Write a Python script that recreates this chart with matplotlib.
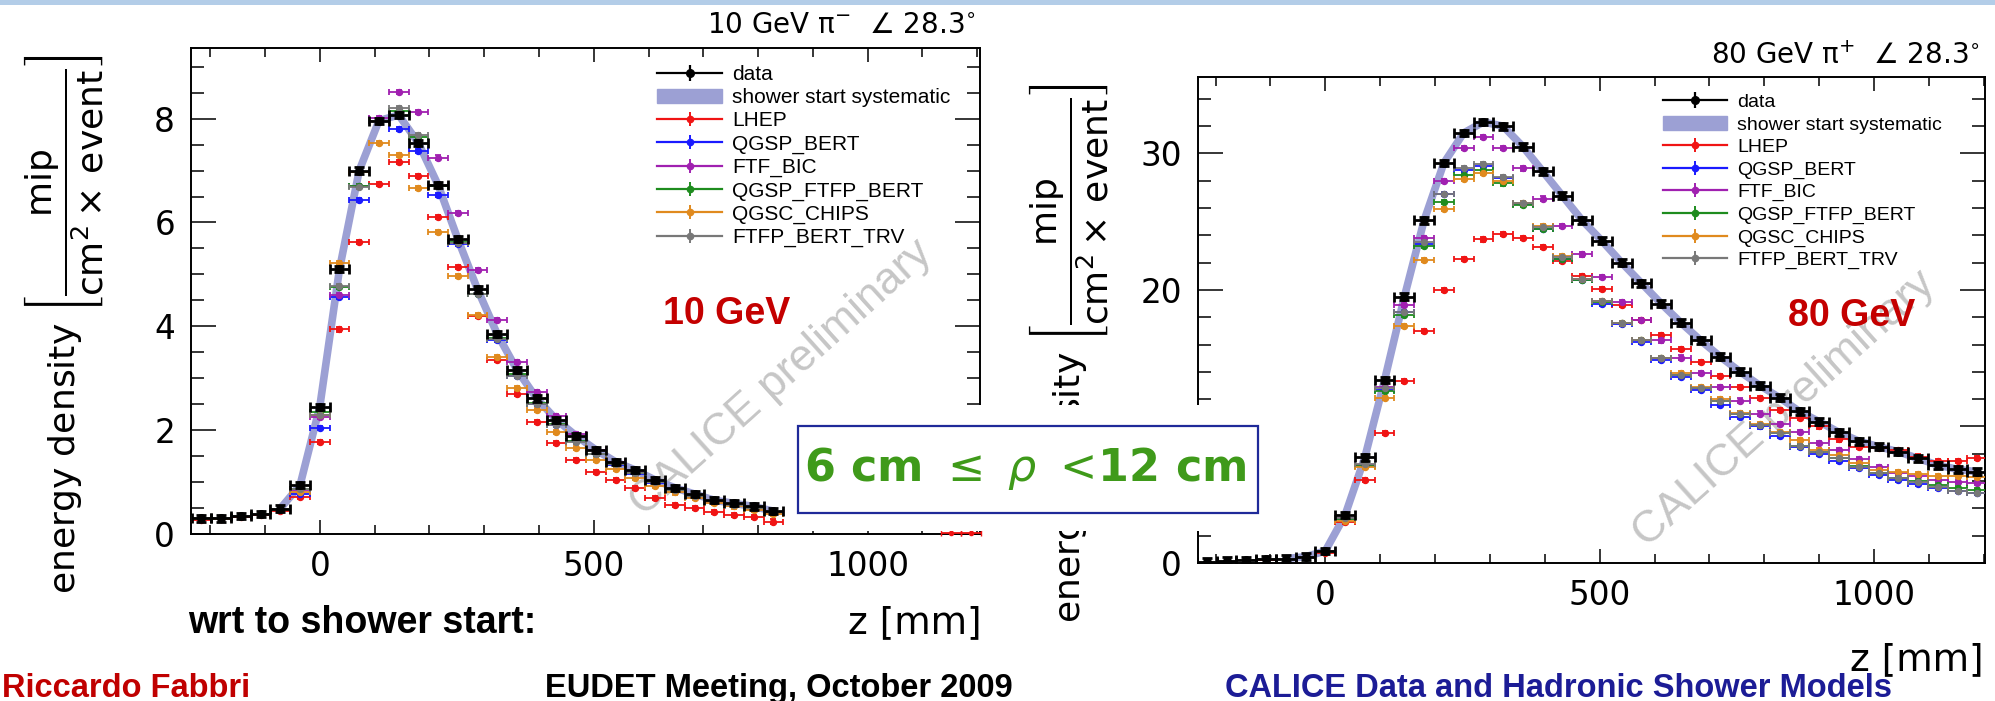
import matplotlib
matplotlib.use('Agg')
import matplotlib.pyplot as plt
import matplotlib.patches as mpatches
from matplotlib.lines import Line2D
from matplotlib.ticker import MultipleLocator

plt.rcParams['font.family'] = ['DejaVu Sans']
plt.rcParams['mathtext.fontset'] = 'dejavusans'
HELV = ['Liberation Sans', 'DejaVu Sans']

# bin centres along the shower axis (mm, wrt shower start)
z_mm = [-216, -180, -144, -108, -72, -36, 0, 36, 72, 108, 144, 180, 216, 252, 288, 324,
        360, 396, 432, 468, 504, 540, 576, 612, 648, 684, 720, 756, 792, 828, 864, 900,
        936, 972, 1008, 1044, 1080, 1116, 1152, 1188]

model_names = ['LHEP', 'QGSP_BERT', 'FTF_BIC', 'QGSP_FTFP_BERT', 'QGSC_CHIPS', 'FTFP_BERT_TRV']
model_colors = ['#f01414', '#1a1aff', '#a020b0', '#1e8c1e', '#e08a1e', '#787878']

# ---- 10 GeV pi- ----
data_10 = [0.30, 0.30, 0.35, 0.39, 0.49, 0.94, 2.45, 5.10, 7.00, 7.96, 8.07, 7.53, 6.72, 5.68, 4.71,
           3.85, 3.16, 2.61, 2.20, 1.89, 1.62, 1.39, 1.23, 1.04, 0.89, 0.77, 0.65, 0.59, 0.53, 0.44]
lhep_10 = [0.27, 0.28, 0.32, 0.36, 0.44, 0.72, 1.77, 3.94, 5.63, 6.74, 7.17, 6.89, 6.11, 5.14, 4.20,
           3.35, 2.70, 2.16, 1.75, 1.42, 1.20, 1.04, 0.88, 0.70, 0.56, 0.50, 0.43, 0.37, 0.33, 0.24]
qgsp_bert_10 = [0.29, 0.29, 0.34, 0.38, 0.47, 0.78, 2.04, 4.57, 6.44, 7.95, 7.80, 7.38, 6.53, 5.59, 4.62,
                3.74, 3.05, 2.50, 2.10, 1.80, 1.55, 1.33, 1.15, 0.98, 0.84, 0.72, 0.62, 0.55, 0.49, 0.41]
ftf_bic_10 = [0.30, 0.30, 0.35, 0.39, 0.48, 0.85, 2.26, 4.60, 6.70, 8.01, 8.52, 8.13, 7.25, 6.19, 5.08,
              4.12, 3.32, 2.74, 2.28, 1.92, 1.62, 1.39, 1.20, 1.02, 0.87, 0.75, 0.64, 0.57, 0.51, 0.42]
qgsp_ftfp_10 = [0.30, 0.30, 0.35, 0.39, 0.48, 0.86, 2.35, 4.75, 6.70, 7.95, 8.15, 7.65, 6.70, 5.62, 4.62,
                3.78, 3.08, 2.52, 2.12, 1.80, 1.55, 1.35, 1.17, 1.00, 0.85, 0.73, 0.63, 0.56, 0.50, 0.42]
qgsc_chips_10 = [0.29, 0.29, 0.34, 0.38, 0.47, 0.80, 2.30, 5.22, 6.98, 7.53, 7.30, 6.67, 5.82, 4.97, 4.22,
                 3.40, 2.81, 2.39, 1.97, 1.66, 1.43, 1.25, 1.08, 0.93, 0.80, 0.69, 0.60, 0.53, 0.47, 0.39]
ftfp_trv_10 = [0.30, 0.30, 0.35, 0.39, 0.48, 0.86, 2.30, 4.78, 6.69, 7.95, 8.20, 7.68, 6.72, 5.60, 4.62,
               3.75, 3.05, 2.50, 2.10, 1.78, 1.55, 1.35, 1.17, 1.00, 0.85, 0.73, 0.63, 0.56, 0.50, 0.42]
lhep_10_tail_z = [1152, 1188]
lhep_10_tail = [0.02, 0.02]

# ---- 80 GeV pi+ ----
data_80 = [0.10, 0.17, 0.22, 0.27, 0.32, 0.46, 0.88, 3.51, 7.74, 13.4, 19.5, 25.1, 29.3, 31.5, 32.3, 32.0,
           30.5, 28.7, 26.9, 25.1, 23.6, 22.0, 20.5, 19.0, 17.6, 16.3, 15.1, 14.0, 13.0, 12.1, 11.1, 10.35,
           9.57, 8.93, 8.52, 8.15, 7.66, 7.17, 6.86, 6.68]
lhep_80 = [0.09, 0.15, 0.20, 0.25, 0.30, 0.42, 0.75, 3.0, 6.1, 9.5, 13.3, 17.0, 20.0, 22.3, 23.7, 24.1,
           23.8, 23.15, 22.1, 21.0, 20.1, 18.9, 17.8, 16.7, 15.7, 14.7, 13.7, 12.9, 12.1, 11.2, 10.6, 10.0,
           9.05, 8.5, 8.4, 8.3, 7.8, 7.5, 7.5, 7.7]
qgsp_bert_80 = [0.10, 0.16, 0.21, 0.26, 0.31, 0.44, 0.85, 3.25, 7.2, 12.7, 18.4, 23.4, 27.0, 28.8, 29.1, 28.2,
                26.3, 24.5, 22.3, 20.7, 19.0, 17.5, 16.2, 14.9, 13.6, 12.66, 11.6, 10.7, 10.0, 9.3, 8.5, 8.0,
                7.5, 6.93, 6.44, 6.07, 5.8, 5.5, 5.3, 5.15]
ftf_bic_80 = [0.10, 0.16, 0.21, 0.26, 0.31, 0.44, 0.85, 3.3, 7.2, 12.9, 18.9, 23.8, 28.0, 30.4, 31.2, 30.4,
              28.9, 26.7, 24.7, 22.6, 20.95, 19.1, 17.8, 16.3, 15.05, 13.9, 12.9, 11.9, 10.95, 10.2, 9.6, 8.8,
              8.3, 7.6, 7.05, 6.6, 6.4, 6.1, 5.95, 5.85]
qgsp_ftfp_80 = [0.10, 0.16, 0.21, 0.26, 0.31, 0.44, 0.85, 3.2, 7.1, 12.6, 18.2, 23.2, 26.45, 28.4, 28.8, 27.8,
                26.2, 24.5, 22.3, 20.7, 19.1, 17.6, 16.3, 15.0, 13.8, 12.85, 11.9, 10.95, 10.1, 9.5, 8.6, 8.15,
                7.7, 7.1, 6.6, 6.25, 6.0, 5.7, 5.5, 5.35]
qgsc_chips_80 = [0.10, 0.16, 0.21, 0.26, 0.31, 0.44, 0.82, 3.1, 7.05, 12.1, 17.35, 22.2, 25.9, 28.1, 28.6, 28.0,
                 26.4, 24.7, 22.5, 20.8, 19.2, 17.6, 16.3, 15.0, 13.9, 12.9, 12.0, 11.0, 10.2, 9.6, 9.0, 8.3,
                 7.9, 7.3, 6.8, 6.65, 6.5, 6.4, 6.35, 6.3]
ftfp_trv_80 = [0.10, 0.16, 0.21, 0.26, 0.31, 0.45, 0.86, 3.3, 7.25, 12.8, 18.4, 23.5, 27.06, 28.9, 29.2, 28.3,
               26.4, 24.6, 22.4, 20.8, 19.2, 17.6, 16.3, 15.0, 13.8, 12.85, 11.9, 10.95, 10.1, 9.5, 8.6, 8.15,
               7.66, 7.05, 6.56, 6.2, 5.9, 5.6, 5.3, 5.1]

models_10 = [lhep_10, qgsp_bert_10, ftf_bic_10, qgsp_ftfp_10, qgsc_chips_10, ftfp_trv_10]
models_80 = [lhep_80, qgsp_bert_80, ftf_bic_80, qgsp_ftfp_80, qgsc_chips_80, ftfp_trv_80]

band_color = '#9ca0d4'
W, H = 1995, 701


def panel(ax, data, models, yerr_d, yerr_m):
    zs = z_mm[:len(data)]
    ax.plot(zs[4:], data[4:], color=band_color, lw=5.5, solid_joinstyle='round',
            solid_capstyle='round', zorder=2)
    for vals, col in zip(models, model_colors):
        ax.errorbar(zs, vals, xerr=18, yerr=yerr_m, fmt='o', ms=4.3, color=col, ecolor=col,
                    elinewidth=1.3, capsize=2.5, capthick=1.3, zorder=3)
    ax.errorbar(zs, data, xerr=18, yerr=yerr_d, fmt='o', ms=5.5, color='black', ecolor='black',
                elinewidth=2, capsize=3.5, capthick=2, zorder=5)
    for s in ax.spines.values():
        s.set_linewidth(1.4)
    ax.xaxis.set_major_locator(MultipleLocator(500))
    ax.xaxis.set_minor_locator(MultipleLocator(100))
    ax.tick_params(which='both', direction='in', top=True, right=True, width=1.1,
                   labelsize=23.5)
    ax.tick_params(axis='y', which='major', length=18, pad=11.5)
    ax.tick_params(axis='y', which='minor', length=9.5)
    ax.tick_params(axis='x', which='major', length=10, pad=11.5)
    ax.tick_params(axis='x', which='minor', length=6.5)

    hs = [(Line2D([], [], color='black', lw=1.6, marker='o', ms=5.5),
           Line2D([], [], color='black', marker='|', ms=11, mew=1.6, ls='none')),
          mpatches.Patch(color=band_color)]
    for col in model_colors:
        hs.append((Line2D([], [], color=col, lw=1.6, marker='o', ms=4.5),
                   Line2D([], [], color=col, marker='|', ms=10, mew=1.4, ls='none')))
    return hs


fig = plt.figure(figsize=(W / 100, H / 100), dpi=100)

# top bar of the slide
fig.add_artist(mpatches.Rectangle((0, 1 - 5 / H), 1, 5 / H, transform=fig.transFigure,
                                  facecolor='#b3cde8', edgecolor='none', zorder=0))

ax1 = fig.add_axes([191 / W, 1 - 534 / H, 789 / W, 486 / H])
ax2 = fig.add_axes([1198 / W, 1 - 563 / H, 787 / W, 486 / H])

h1 = panel(ax1, data_10, models_10, 0.06, 0.04)
ax1.errorbar(lhep_10_tail_z, lhep_10_tail, xerr=18, fmt='o', ms=3, color=model_colors[0],
             elinewidth=1.3, capsize=2, zorder=3, clip_on=False)
ax1.set_xlim(-235, 1205)
ax1.set_ylim(0, 9.36)
ax1.yaxis.set_major_locator(MultipleLocator(2))
ax1.yaxis.set_minor_locator(MultipleLocator(0.5))

h2 = panel(ax2, data_80, models_80, 0.25, 0.15)
ax2.set_xlim(-232, 1202)
ax2.set_ylim(0, 35.6)
ax2.yaxis.set_major_locator(MultipleLocator(10))
ax2.yaxis.set_minor_locator(MultipleLocator(2))

leg_labels = ['data', 'shower start systematic'] + model_names
ax1.legend(h1, leg_labels, loc='upper left', bbox_to_anchor=(0.591, 0.965), frameon=False,
           prop={'family': HELV, 'size': 15}, handlelength=3.1, handletextpad=0.5,
           labelspacing=0.2, borderpad=0, borderaxespad=0)
ax2.legend(h2, leg_labels, loc='upper left', bbox_to_anchor=(0.591, 0.966), frameon=False,
           prop={'family': HELV, 'size': 14}, handlelength=3.3, handletextpad=0.5,
           labelspacing=0.25, borderpad=0, borderaxespad=0)

ax1.text(0.679, 0.453, '10 GeV', transform=ax1.transAxes, color='#c40000', fontsize=27,
         family=HELV, fontweight='bold', ha='center', va='center')
ax2.text(0.830, 0.508, '80 GeV', transform=ax2.transAxes, color='#c40000', fontsize=27,
         family=HELV, fontweight='bold', ha='center', va='center')
for ax, (xc, yc) in [(ax1, (0.748, 0.321)), (ax2, (0.745, 0.317))]:
    ax.text(xc, yc, 'CALICE preliminary', transform=ax.transAxes, rotation=42, color='#c6c6c6',
            fontsize=32, family=HELV, ha='center', va='center', zorder=1)

fig.text(976 / W, 1 - 25 / H, r'10 GeV $\mathrm{\pi}^{-}$  $\angle$ 28.3$^{\circ}$', ha='right',
         va='center', fontsize=20)
fig.text(1980 / W, 1 - 56 / H, r'80 GeV $\mathrm{\pi}^{+}$  $\angle$ 28.3$^{\circ}$', ha='right',
         va='center', fontsize=20)

ylab = r'energy density $\left[\dfrac{\mathrm{mip}}{\mathrm{cm}^{2}\times\,\mathrm{event}}\right]$'
fig.text(64 / W, 1 - 324 / H, ylab, rotation=90, ha='center', va='center', fontsize=26)
fig.text(1068 / W, 1 - 353 / H, ylab, rotation=90, ha='center', va='center', fontsize=26)

fig.text(982 / W, 1 - 623 / H, 'z [mm]', ha='right', va='center', fontsize=27)
fig.text(1984 / W, 1 - 660 / H, 'z [mm]', ha='right', va='center', fontsize=27)
fig.text(188 / W, 1 - 633 / H, 'wrt to shower start:', ha='left', va='baseline', fontsize=27,
         family=HELV, fontweight='bold')

# the rho-range box sits over both panels
fig.add_artist(mpatches.Rectangle((790 / W, 1 - 531 / H), 472 / W, 126 / H, transform=fig.transFigure,
                                  facecolor='white', edgecolor='none', zorder=10))
fig.add_artist(mpatches.Rectangle((798 / W, 1 - 513 / H), 460 / W, 87 / H, transform=fig.transFigure,
                                  facecolor='white', edgecolor='#1f2a99', lw=1.6, zorder=11))
fig.text(1025 / W, 1 - 469 / H, r'6 cm $\leq\ \rho\ <\!$12 cm', ha='center', va='center',
         fontsize=32, fontweight='bold', color='#3f9a1a', zorder=12)

# slide footer
fig.text(2 / W, 4 / H, 'Riccardo Fabbri', ha='left', va='baseline', fontsize=23.5,
         family=HELV, fontweight='bold', color='#c00000')
fig.text(545 / W, 4 / H, 'EUDET Meeting, October 2009', ha='left', va='baseline', fontsize=23.5,
         family=HELV, fontweight='bold', color='black')
fig.text(1225 / W, 4 / H, 'CALICE Data and Hadronic Shower Models', ha='left', va='baseline',
         fontsize=23.5, family=HELV, fontweight='bold', color='#1c1c96')

fig.savefig('out.png', dpi=100)
